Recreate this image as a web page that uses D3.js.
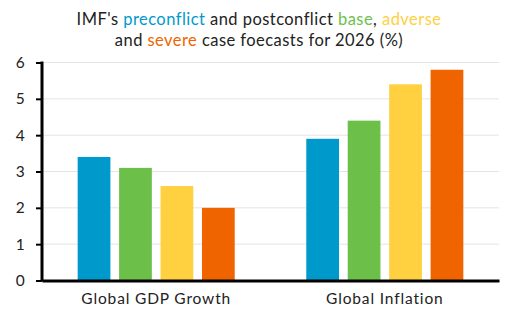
<!DOCTYPE html>
<html>
<head>
<meta charset="utf-8">
<script src="https://cdn.jsdelivr.net/npm/d3@7"></script>
<style>
  body { margin: 0; background: #fff; }
  svg { display: block; font-family: "Lato", "Noto Sans", sans-serif; }
</style>
</head>
<body>
<div id="chart"></div>
<script>
// categories and series
var categories = ["Global GDP Growth", "Global Inflation"];
var series = ["preconflict", "base", "adverse", "severe"];
var preconflict = [3.4, 3.9];
var base = [3.1, 4.4];
var adverse = [2.6, 5.4];
var severe = [2.0, 5.8];
var yTicks = [0, 1, 2, 3, 4, 5, 6];
var colors = ["#0099cc", "#6cc04a", "#ffd040", "#f06400"];

var values = [preconflict, base, adverse, severe];

var width = 506, height = 311;
var margin = { top: 62.5, right: 7, bottom: 30.5, left: 42 };
var innerW = width - margin.left - margin.right;
var innerH = height - margin.top - margin.bottom;

var svg = d3.select("#chart").append("svg")
  .attr("width", width)
  .attr("height", height);

// title, two lines with coloured words
var title = svg.append("text")
  .attr("text-anchor", "middle")
  .attr("font-size", 16.5)
  .attr("letter-spacing", 0.45)
  .attr("fill", "#222");

var line1 = title.append("tspan").attr("x", 259).attr("y", 25);
line1.append("tspan").text("IMF's ");
line1.append("tspan").attr("fill", colors[0]).text("preconflict");
line1.append("tspan").text(" and postconflict ");
line1.append("tspan").attr("fill", colors[1]).text("base");
line1.append("tspan").text(", ");
line1.append("tspan").attr("fill", colors[2]).text("adverse");

var line2 = title.append("tspan").attr("x", 259).attr("y", 45.5);
line2.append("tspan").text("and ");
line2.append("tspan").attr("fill", colors[3]).text("severe");
line2.append("tspan").text(" case foecasts for 2026 (%)");

var g = svg.append("g")
  .attr("transform", "translate(" + margin.left + "," + margin.top + ")");

var x0 = d3.scaleBand()
  .domain(categories)
  .range([0, innerW])
  .paddingInner(0.313)
  .paddingOuter(0.156);

var x1 = d3.scaleBand()
  .domain(series)
  .range([0, x0.bandwidth()])
  .paddingInner(0.21);

var y = d3.scaleLinear()
  .domain([0, 6])
  .range([innerH, 0]);

// gridlines
g.append("g")
  .selectAll("line")
  .data(yTicks.slice(1))
  .enter().append("line")
  .attr("x1", 0)
  .attr("x2", innerW)
  .attr("y1", function(d) { return y(d); })
  .attr("y2", function(d) { return y(d); })
  .attr("stroke", "#e4e4e4")
  .attr("stroke-width", 1);

// bars
var groups = g.selectAll(".group")
  .data(categories)
  .enter().append("g")
  .attr("class", "group")
  .attr("transform", function(d) { return "translate(" + x0(d) + ",0)"; });

groups.selectAll("rect")
  .data(function(d, i) {
    return series.map(function(s, j) { return { s: s, v: values[j][i], c: colors[j] }; });
  })
  .enter().append("rect")
  .attr("x", function(d) { return x1(d.s); })
  .attr("width", x1.bandwidth())
  .attr("y", function(d) { return y(d.v); })
  .attr("height", function(d) { return innerH - y(d.v); })
  .attr("fill", function(d) { return d.c; });

// y axis
var yAxis = g.append("g")
  .call(d3.axisLeft(y).tickValues(yTicks).tickSize(6).tickPadding(11).tickFormat(d3.format("d")));
yAxis.select(".domain").attr("stroke", "#000").attr("stroke-width", 3).attr("d", "M0," + (innerH + 1) + "V-1");
yAxis.selectAll(".tick line").attr("stroke", "#000").attr("stroke-width", 2);
yAxis.selectAll(".tick text")
  .attr("font-size", 15.5)
  .attr("letter-spacing", 0.3)
  .attr("fill", "#222")
  .attr("font-family", "Lato, 'Noto Sans', sans-serif");

// x axis
var xAxis = g.append("g")
  .attr("transform", "translate(0," + innerH + ")")
  .call(d3.axisBottom(x0).tickSize(0).tickPadding(12.5));
xAxis.select(".domain").attr("stroke", "#000").attr("stroke-width", 3);
xAxis.selectAll(".tick text")
  .attr("font-size", 15.5)
  .attr("letter-spacing", 0.85)
  .attr("fill", "#222")
  .attr("font-family", "Lato, 'Noto Sans', sans-serif");
</script>
</body>
</html>
